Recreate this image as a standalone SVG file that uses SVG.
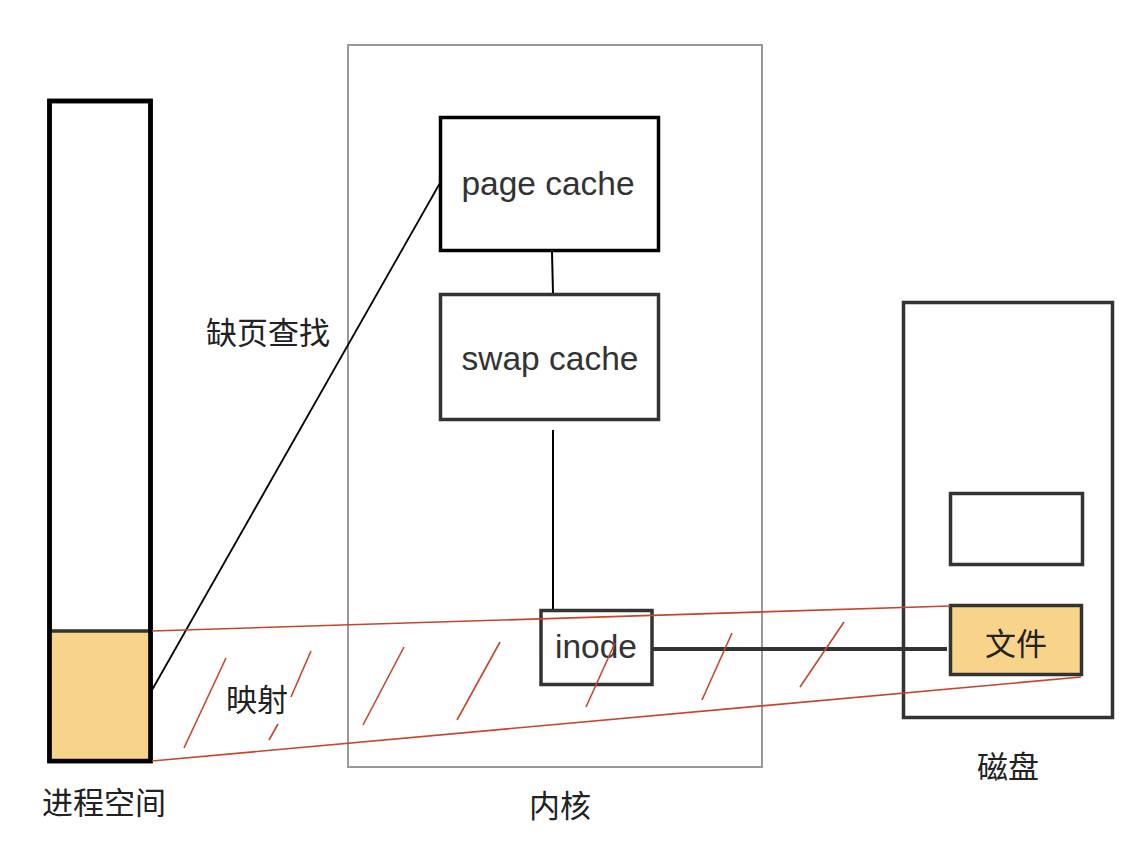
<svg xmlns="http://www.w3.org/2000/svg" width="1148" height="854" viewBox="0 0 1148 854">
<style>
.lbl{font-family:"Noto Sans CJK SC","Liberation Sans",sans-serif;font-size:31px;fill:#222;text-anchor:middle;dominant-baseline:central}
.en{font-family:"Liberation Sans","Noto Sans",sans-serif;font-size:33.5px;fill:#333;text-anchor:middle;dominant-baseline:central}
.box{fill:#fff;stroke:#333;stroke-width:3.5}
.red{stroke:#C4462E;stroke-width:1.6;fill:none}
.orange{fill:#F8D38A}
</style>
<rect width="1148" height="854" fill="#fff"/>
<g id="kernel">
<rect x="348" y="45" width="414" height="722" fill="none" stroke="#999" stroke-width="2"/>
<text class="lbl" x="560" y="803">内核</text>
</g>
<g id="process-space">
<rect x="49.5" y="101" width="101" height="660" fill="#fff" stroke="#000" stroke-width="4.5"/>
<rect class="orange" x="51.5" y="631" width="97" height="128"/>
<line x1="49.5" y1="631" x2="150.5" y2="631" stroke="#333" stroke-width="3.5"/>
<rect x="49.5" y="101" width="101" height="660" fill="none" stroke="#000" stroke-width="4.5"/>
<text class="lbl" x="104" y="800">进程空间</text>
</g>
<g id="page-cache">
<rect x="440.5" y="117.5" width="218" height="133" fill="#fff" stroke="#000" stroke-width="3.5"/>
<text class="en" x="548" y="183">page cache</text>
</g>
<g id="swap-cache">
<rect class="box" x="440.5" y="294.5" width="218" height="125"/>
<text class="en" x="550" y="358">swap cache</text>
</g>
<g id="inode">
<rect class="box" x="541" y="610.5" width="111" height="74"/>
<text class="en" x="596" y="646">inode</text>
</g>
<g id="disk">
<rect class="box" x="903.5" y="302.5" width="209" height="415"/>
<rect class="box" x="950.5" y="493.5" width="132" height="71"/>
<text class="lbl" x="1008" y="764">磁盘</text>
</g>
<g id="file">
<rect x="950.5" y="605.5" width="131" height="69" fill="#F8D38A" stroke="#333" stroke-width="3.5"/>
<text class="lbl" x="1016" y="641">文件</text>
</g>
<g id="connectors">
<line x1="152" y1="690" x2="440" y2="183" stroke="#000" stroke-width="1.8"/>
<line x1="552" y1="252" x2="553" y2="293" stroke="#000" stroke-width="2"/>
<line x1="553" y1="430" x2="553" y2="609" stroke="#000" stroke-width="2"/>
<line x1="652" y1="649" x2="947" y2="649" stroke="#333" stroke-width="4"/>
<line class="red" x1="152" y1="631" x2="950" y2="606"/>
<line class="red" x1="152" y1="761" x2="1081" y2="677"/>
<line class="red" x1="226" y1="658" x2="184" y2="748"/>
<line class="red" x1="311" y1="651" x2="291" y2="697"/>
<line class="red" x1="278" y1="724" x2="269" y2="740"/>
<line class="red" x1="404" y1="647" x2="363" y2="725"/>
<line class="red" x1="500" y1="642" x2="457" y2="720"/>
<line class="red" x1="615" y1="643" x2="586" y2="707"/>
<line class="red" x1="732" y1="633" x2="702" y2="700"/>
<line class="red" x1="844" y1="622" x2="800" y2="687"/>
</g>
<text class="lbl" x="268" y="330">缺页查找</text>
<text class="lbl" x="257" y="697">映射</text>
</svg>
